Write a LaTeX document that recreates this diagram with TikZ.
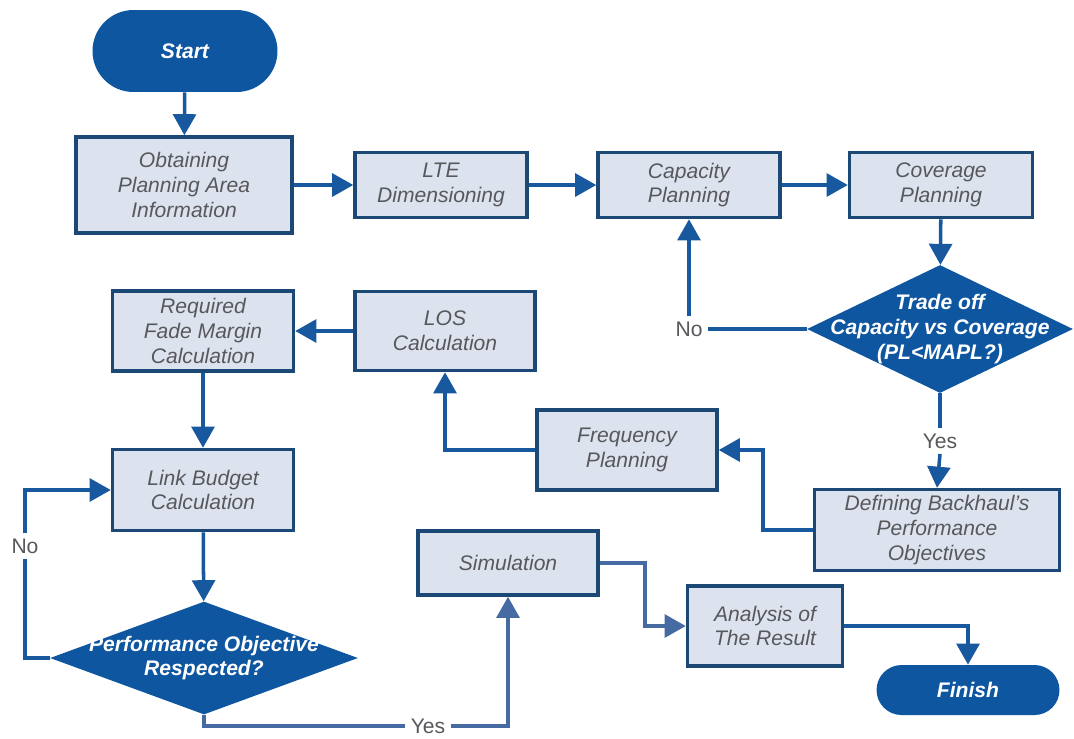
\documentclass[tikz,border=0pt]{standalone}
\usepackage{fontspec}
\setmainfont{Liberation Sans}
\usepackage{tikz}
\usetikzlibrary{shapes.geometric,arrows.meta}
\definecolor{navy}{RGB}{14,86,160}
\definecolor{boxfill}{RGB}{220,227,238}
\definecolor{boxline}{RGB}{28,72,118}
\definecolor{arrline}{RGB}{24,88,158}
\definecolor{softline}{RGB}{70,106,162}
\definecolor{txtgray}{RGB}{88,88,92}

\begin{document}
\begin{tikzpicture}[x = 0.02cm, y = -0.02cm,
  box/.style = {draw = boxline, line width = 2pt, fill = boxfill, align = center, text = txtgray,
    inner sep = 0pt, font = \fontsize{12}{14}\selectfont\itshape},
  term/.style = {fill = navy, text = white, font = \fontsize{12}{14}\selectfont\bfseries\itshape},
  decision/.style = {diamond, fill = navy, inner sep = 0pt},
  dtext/.style = {text = white, align = center, font = \fontsize{12}{14}\selectfont\bfseries\itshape},
  answer/.style = {text = txtgray, inner sep = 3pt, font = \fontsize{12}{14}\selectfont},
  wire/.style = {draw = arrline, line width = 2pt},
  arr/.style = {wire, -{Triangle[length = 12pt, width = 13pt]}}]
\useasboundingbox (0,0) rectangle (1074,738);

\node[term, rounded corners = 0.82cm, minimum width = 3.7cm, minimum height = 1.64cm] (start) at (185,51) {Start};
\node[box, minimum width = 4.32cm, minimum height = 1.92cm] (obtain) at (184,185) {Obtaining\\Planning Area\\Information};
\node[box, minimum width = 3.44cm, minimum height = 1.3cm] (lte) at (441,185) {LTE\\Dimensioning};
\node[box, minimum width = 3.64cm, minimum height = 1.3cm] (capacity) at (689,185) {Capacity\\Planning};
\node[box, minimum width = 3.66cm, minimum height = 1.3cm] (coverage) at (941,185) {Coverage\\Planning};
\node[decision, minimum width = 5.32cm, minimum height = 2.56cm,
  label = {[dtext]center:{Trade off\\Capacity vs Coverage\\(PL<MAPL?)}}] (trade) at (940,329) {};
\node[answer] (nocap) at (689,329) {No};
\node[answer] (yesbh) at (940,441) {Yes};
\node[box, minimum width = 4.9cm, minimum height = 1.62cm] (backhaul) at (937,530) {Defining Backhaul's\\Performance\\Objectives};
\node[box, minimum width = 3.6cm, minimum height = 1.6cm] (freq) at (627,450) {Frequency\\Planning};
\node[box, minimum width = 3.6cm, minimum height = 1.58cm] (los) at (445,331) {LOS\\Calculation};
\node[box, minimum width = 3.62cm, minimum height = 1.6cm] (fade) at (203,331) {Required\\Fade Margin\\Calculation};
\node[box, minimum width = 3.62cm, minimum height = 1.62cm] (link) at (203,490) {Link Budget\\Calculation};
\node[decision, minimum width = 6.16cm, minimum height = 2.26cm,
  label = {[dtext]center:{Performance Objective\\Respected?}}] (perf) at (204,658) {};
\node[answer] (nolink) at (25,546) {No};
\node[answer] (yessim) at (428,726) {Yes};
\node[box, minimum width = 3.6cm, minimum height = 1.28cm] (sim) at (508,563) {Simulation};
\node[box, minimum width = 3.1cm, minimum height = 1.6cm] (result) at (765,626) {Analysis of\\The Result};
\node[term, rounded corners = 0.5cm, minimum width = 3.66cm, minimum height = 1.0cm] (finish) at (968,690) {Finish};

\draw[arr] (start) -- (obtain);
\foreach \a/\b in {obtain/lte, lte/capacity, capacity/coverage}
\draw[arr] (\a) -- (\b);
\draw[arr] (coverage) -- (trade);
\draw[wire] (trade.west) -- (nocap.east);
\draw[arr] (nocap.north) -- (capacity.south);
\draw[wire] (trade.south) -- (yesbh.north);
\draw[arr] (yesbh.south) -- (backhaul.north);
\draw[arr] (backhaul.west) -- ++(-50,0) |- (freq.east);
\draw[arr] (freq.west) -| (los.south);
\draw[arr] (los.west) -- (fade.east);
\draw[arr] (fade) -- (link);
\draw[arr] (link) -- (perf);
\draw[wire] (perf.west) -| (nolink.south);
\draw[arr] (nolink.north) |- (link.west);
\draw[wire, draw = softline] (perf.south) |- (yessim.west);
\draw[arr, draw = softline] (yessim.east) -| (sim.south);
\draw[arr, draw = softline] (sim.east) -- ++(45,0) |- (result.west);
\draw[arr] (result.east) -| (finish.north);
\end{tikzpicture}
\end{document}
